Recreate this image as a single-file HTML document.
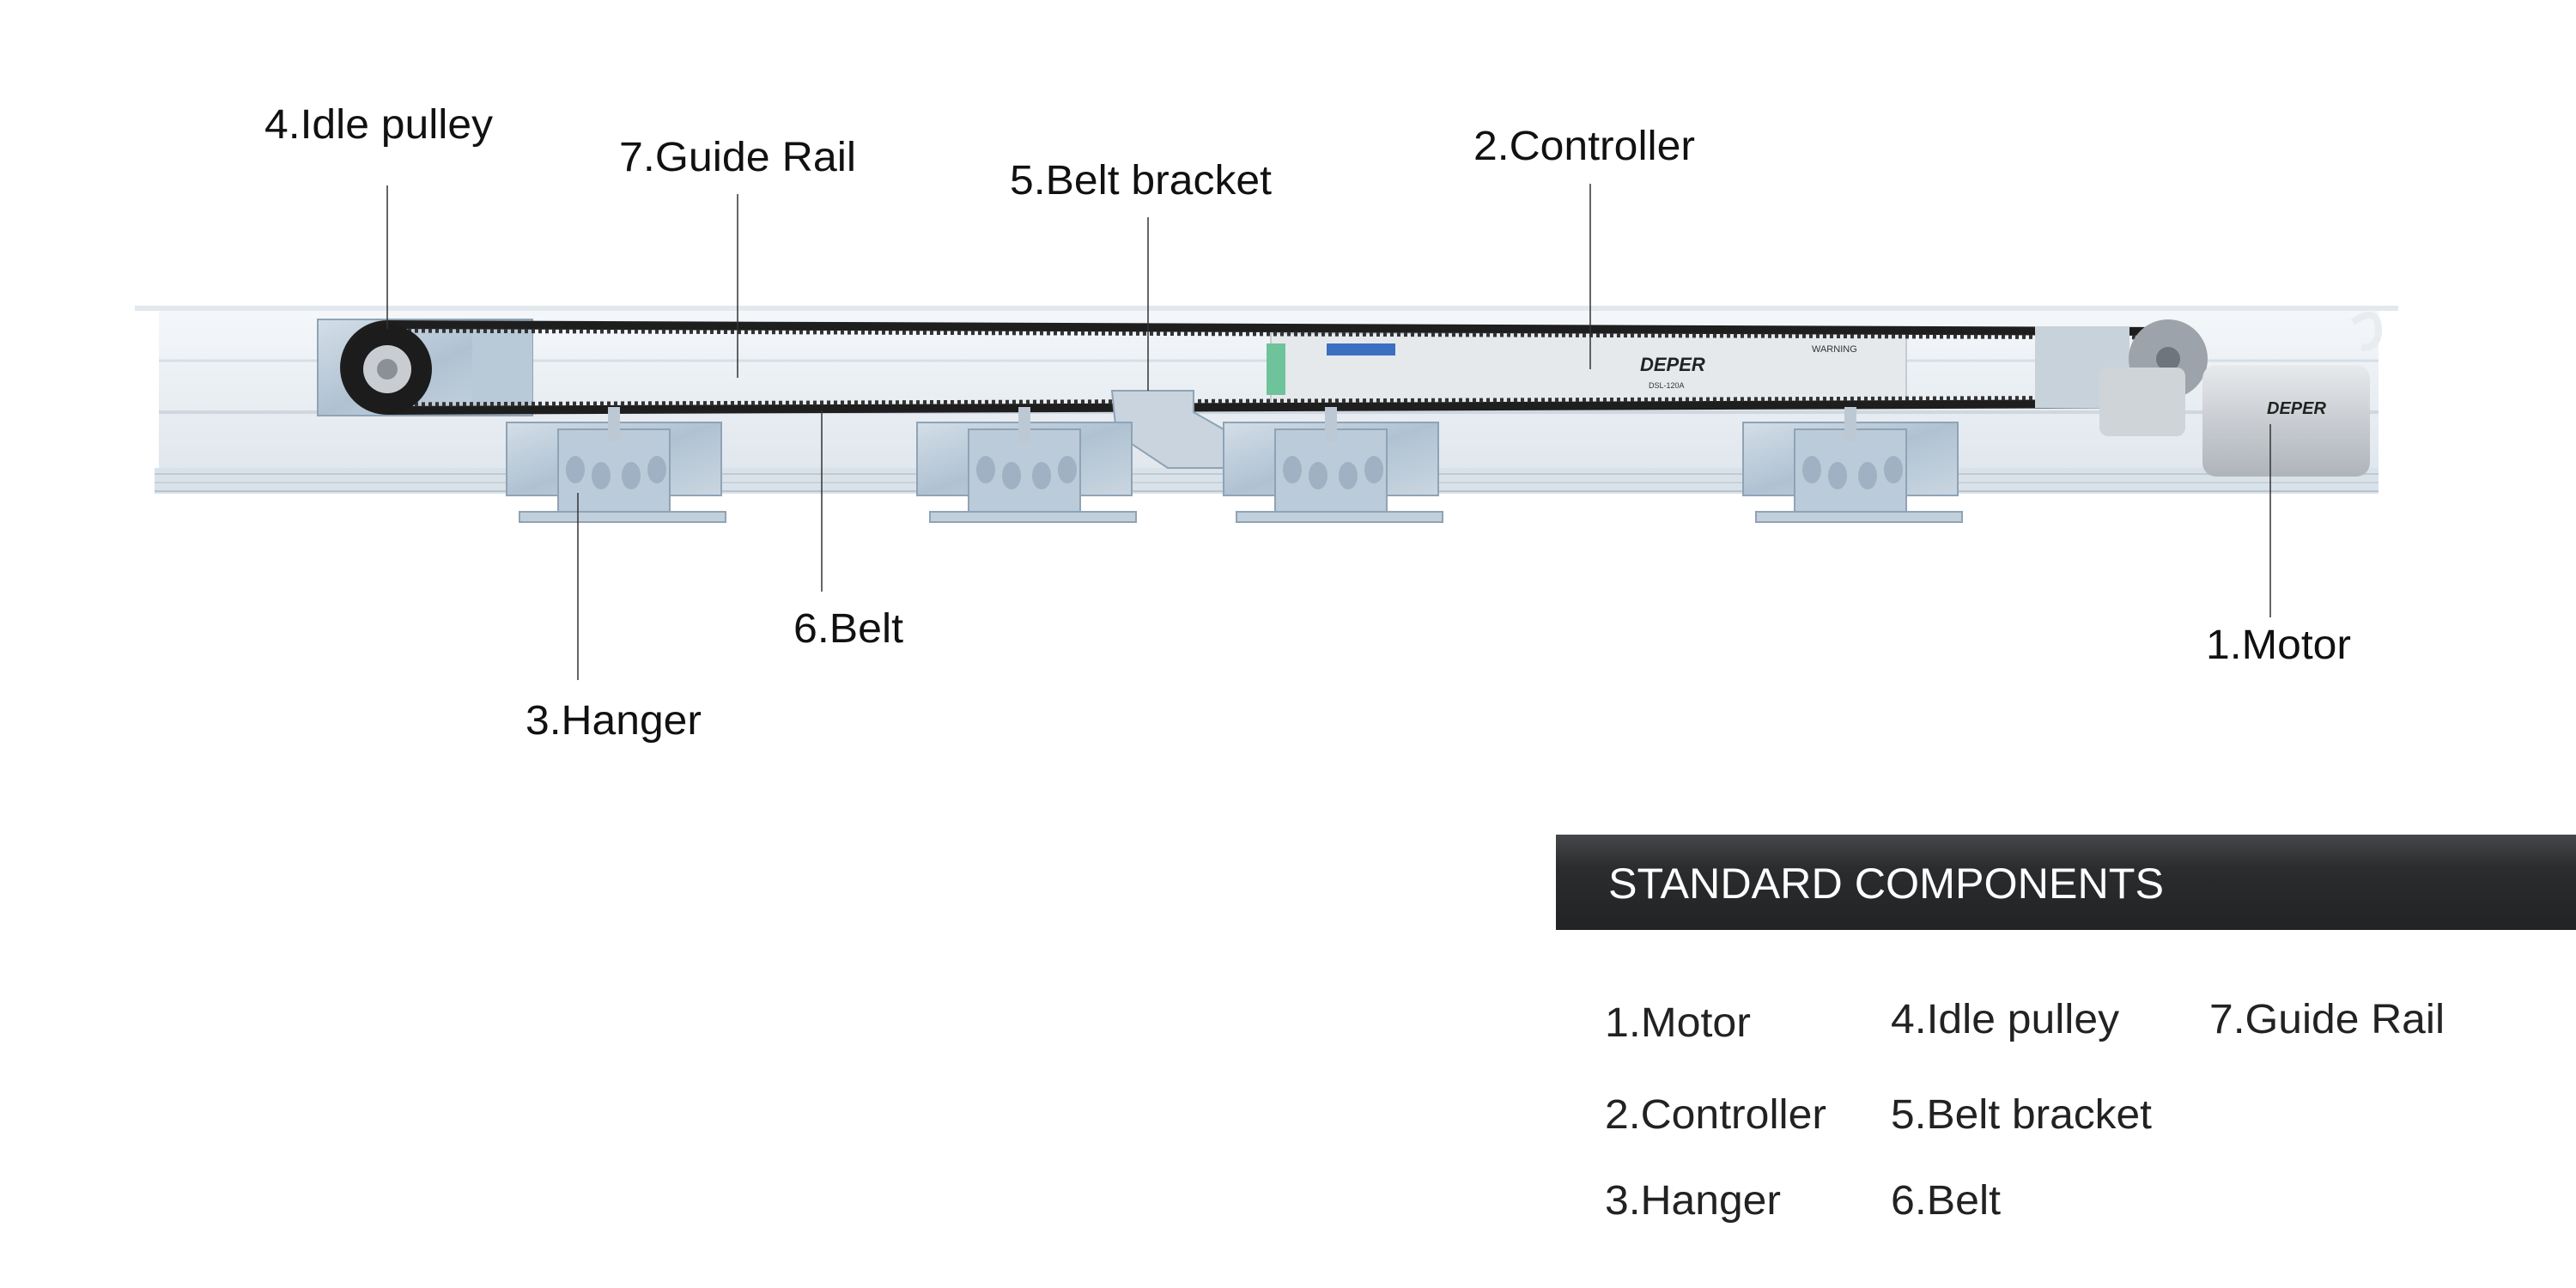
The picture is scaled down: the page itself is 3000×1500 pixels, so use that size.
<!DOCTYPE html>
<html><head><meta charset="utf-8"><style>
html,body{margin:0;padding:0;background:#fff;}
svg{display:block;}
text{font-family:"Liberation Sans",Arial,sans-serif;}
</style></head><body>
<svg width="3000" height="1500" viewBox="0 0 3000 1500" xmlns="http://www.w3.org/2000/svg">
<defs>
<linearGradient id="ban" x1="0" y1="0" x2="0" y2="1"><stop offset="0" stop-color="#46474a"/><stop offset="0.35" stop-color="#2b2c2e"/><stop offset="1" stop-color="#222325"/></linearGradient>
<linearGradient id="rail" x1="0" y1="0" x2="0" y2="1"><stop offset="0" stop-color="#f4f7fa"/><stop offset="0.5" stop-color="#e9eef3"/><stop offset="1" stop-color="#dfe6ec"/></linearGradient>
<linearGradient id="steel" x1="0" y1="0" x2="1" y2="1"><stop offset="0" stop-color="#d3dee8"/><stop offset="0.5" stop-color="#b0c2d2"/><stop offset="1" stop-color="#cad6e1"/></linearGradient>
<linearGradient id="motor" x1="0" y1="0" x2="0" y2="1"><stop offset="0" stop-color="#e8eaec"/><stop offset="0.5" stop-color="#c9cdd2"/><stop offset="1" stop-color="#aeb4ba"/></linearGradient>
<g id="hanger">
<rect x="0" y="0" width="250" height="85" fill="url(#steel)" stroke="#8fa3b5" stroke-width="2"/>
<rect x="60" y="8" width="130" height="105" fill="#bccbd9" stroke="#8fa3b5" stroke-width="2"/>
<rect x="15" y="104" width="240" height="12" fill="#c2d0dc" stroke="#8fa3b5" stroke-width="2"/>
<rect x="118" y="-18" width="14" height="40" fill="#bcc9d4"/>
<ellipse cx="80" cy="55" rx="11" ry="16" fill="#9fb1c2"/><ellipse cx="110" cy="62" rx="11" ry="16" fill="#9fb1c2"/><ellipse cx="145" cy="62" rx="11" ry="16" fill="#9fb1c2"/><ellipse cx="175" cy="55" rx="11" ry="16" fill="#9fb1c2"/>
</g>
</defs>

<!-- rail -->
<rect x="157" y="356" width="2636" height="6" fill="#e3e8ed"/>
<rect x="185" y="362" width="2585" height="200" fill="url(#rail)"/>
<line x1="185" y1="420" x2="2770" y2="420" stroke="#d7dee5" stroke-width="3"/>
<line x1="185" y1="480" x2="2770" y2="480" stroke="#cfd7df" stroke-width="4"/>
<rect x="180" y="545" width="2590" height="30" fill="#dae2e9"/>
<line x1="180" y1="552" x2="2770" y2="552" stroke="#bfcad4" stroke-width="2"/>
<line x1="180" y1="562" x2="2770" y2="562" stroke="#c7d1da" stroke-width="2"/>
<line x1="180" y1="572" x2="2770" y2="572" stroke="#b8c4cf" stroke-width="2"/>

<!-- idle pulley bracket -->
<rect x="370" y="372" width="250" height="112" fill="url(#steel)" stroke="#8fa3b5" stroke-width="2"/>
<rect x="550" y="380" width="70" height="100" fill="#b8c9d8"/>
<!-- controller -->
<rect x="1480" y="388" width="740" height="84" fill="#e6e9ec" stroke="#c4cbd1" stroke-width="2"/>
<rect x="1475" y="400" width="22" height="60" fill="#6fc39a"/>
<rect x="1545" y="400" width="80" height="14" fill="#3b6fc2"/>
<text x="1910" y="432" font-size="22" font-style="italic" font-weight="bold" fill="#222">DEPER</text>
<text x="1920" y="452" font-size="9" fill="#333">DSL-120A</text>
<text x="2110" y="410" font-size="11" fill="#333">WARNING</text>
<!-- belt -->
<path d="M451 378 L2525 386 A48 48 0 0 1 2525 470 L451 478 A50 50 0 0 1 451 378 Z" fill="none" stroke="#1e1e1e" stroke-width="10"/>
<path d="M451 385 L2525 393 M451 471 L2525 463" fill="none" stroke="#333" stroke-width="5" stroke-dasharray="4 4"/>
<!-- idle pulley -->
<circle cx="451" cy="430" r="52" fill="#1c1c1c"/>
<circle cx="451" cy="430" r="28" fill="#c9cdd2"/>
<circle cx="451" cy="430" r="12" fill="#8b9096"/>
<!-- motor -->
<rect x="2370" y="380" width="110" height="95" fill="#c8d2db"/>
<circle cx="2525" cy="418" r="46" fill="#9ca3aa"/>
<circle cx="2525" cy="418" r="14" fill="#6e757c"/>
<rect x="2445" y="428" width="100" height="80" rx="10" fill="#cfd4d9"/>
<rect x="2565" y="425" width="195" height="130" rx="16" fill="url(#motor)"/>
<text x="2640" y="482" font-size="20" font-style="italic" font-weight="bold" fill="#222">DEPER</text>
<path d="M2740 375 q30 -20 30 10 q0 20 -20 20" fill="none" stroke="#e8ecef" stroke-width="8"/>
<!-- belt bracket -->
<path d="M1295 455 L1390 455 L1390 480 L1425 500 L1425 545 L1360 545 L1300 505 Z" fill="#c9d4de" stroke="#8fa3b5" stroke-width="2"/>
<!-- hangers -->
<use href="#hanger" x="590" y="492"/>
<use href="#hanger" x="1068" y="492"/>
<use href="#hanger" x="1425" y="492"/>
<use href="#hanger" x="2030" y="492"/>

<!-- leader lines -->
<g stroke="#333" stroke-width="1.5">
<line x1="451" y1="216" x2="451" y2="383"/>
<line x1="859" y1="226" x2="859" y2="440"/>
<line x1="1337" y1="253" x2="1337" y2="455"/>
<line x1="1852" y1="214" x2="1852" y2="430"/>
<line x1="2644" y1="494" x2="2644" y2="719"/>
<line x1="957" y1="478" x2="957" y2="689"/>
<line x1="673" y1="574" x2="673" y2="792"/>
</g>

<g font-size="48" fill="#111">
<text x="308" y="161" textLength="266" lengthAdjust="spacingAndGlyphs">4.Idle pulley</text>
<text x="721" y="199" textLength="276" lengthAdjust="spacingAndGlyphs">7.Guide Rail</text>
<text x="1176" y="226" textLength="305" lengthAdjust="spacingAndGlyphs">5.Belt bracket</text>
<text x="1716" y="186" textLength="258" lengthAdjust="spacingAndGlyphs">2.Controller</text>
<text x="2569" y="767" textLength="169" lengthAdjust="spacingAndGlyphs">1.Motor</text>
<text x="924" y="748" textLength="128" lengthAdjust="spacingAndGlyphs">6.Belt</text>
<text x="612" y="855" textLength="205" lengthAdjust="spacingAndGlyphs">3.Hanger</text>
</g>

<rect x="1812" y="972" width="1188" height="111" fill="url(#ban)"/>
<text x="1873" y="1046" font-size="50" fill="#fff" textLength="647" lengthAdjust="spacingAndGlyphs">STANDARD COMPONENTS</text>

<g font-size="48" fill="#222">
<text x="1869" y="1207" textLength="170" lengthAdjust="spacingAndGlyphs">1.Motor</text>
<text x="2202" y="1203" textLength="266" lengthAdjust="spacingAndGlyphs">4.Idle pulley</text>
<text x="2573" y="1203" textLength="274" lengthAdjust="spacingAndGlyphs">7.Guide Rail</text>
<text x="1869" y="1314" textLength="258" lengthAdjust="spacingAndGlyphs">2.Controller</text>
<text x="2202" y="1314" textLength="304" lengthAdjust="spacingAndGlyphs">5.Belt bracket</text>
<text x="1869" y="1414" textLength="205" lengthAdjust="spacingAndGlyphs">3.Hanger</text>
<text x="2202" y="1414" textLength="128" lengthAdjust="spacingAndGlyphs">6.Belt</text>
</g>
</svg>
</body></html>
